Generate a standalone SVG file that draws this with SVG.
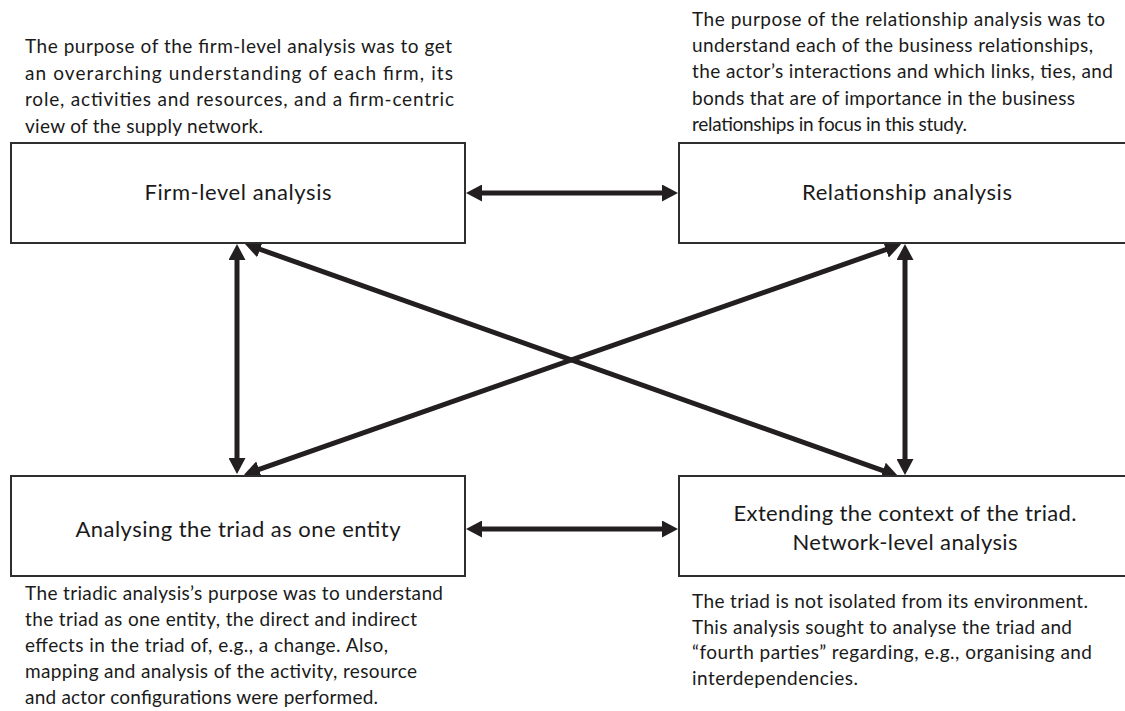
<svg xmlns="http://www.w3.org/2000/svg" width="1125" height="711" viewBox="0 0 1125 711">
  <style>
    .box { fill: #ffffff; stroke: #2e2e2e; stroke-width: 2; }
    .title { font-family: Lato, "Open Sans", "Liberation Sans", sans-serif; font-size: 22px; fill: #1a1a1a; text-anchor: middle; }
    .note { font-family: Lato, "Open Sans", "Liberation Sans", sans-serif; font-size: 19px; fill: #1a1a1a; }
    .link { fill: none; stroke: #231f20; stroke-width: 5; marker-start: url(#head); marker-end: url(#head); }
  </style>
  <defs>
    <marker id="head" viewBox="0 0 16 17" markerWidth="16" markerHeight="17" refX="6" refY="8.5" orient="auto-start-reverse" markerUnits="userSpaceOnUse">
      <path d="M0,0 L16,8.5 L0,17 z" fill="#231f20"/>
    </marker>
  </defs>
  <rect width="1125" height="711" fill="#ffffff"/>

  <!-- descriptions -->
  <g id="note-firm" class="note">
    <text x="25" y="53" textLength="427">The purpose of the firm-level analysis was to get</text>
    <text x="25" y="80" textLength="428">an overarching understanding of each firm, its</text>
    <text x="25" y="106" textLength="429">role, activities and resources, and a firm-centric</text>
    <text x="25" y="133" textLength="238">view of the supply network.</text>
  </g>
  <g id="note-relationship" class="note">
    <text x="692" y="26" textLength="413">The purpose of the relationship analysis was to</text>
    <text x="692" y="52" textLength="401">understand each of the business relationships,</text>
    <text x="692" y="78" textLength="421">the actor’s interactions and which links, ties, and</text>
    <text x="692" y="105" textLength="383">bonds that are of importance in the business</text>
    <text x="692" y="131" textLength="275">relationships in focus in this study.</text>
  </g>
  <g id="note-triad" class="note">
    <text x="25" y="600" textLength="418">The triadic analysis’s purpose was to understand</text>
    <text x="25" y="626" textLength="392">the triad as one entity, the direct and indirect</text>
    <text x="25" y="652" textLength="363">effects in the triad of, e.g., a change. Also,</text>
    <text x="25" y="678" textLength="392">mapping and analysis of the activity, resource</text>
    <text x="25" y="704" textLength="353">and actor configurations were performed.</text>
  </g>
  <g id="note-network" class="note">
    <text x="692" y="608" textLength="396">The triad is not isolated from its environment.</text>
    <text x="692" y="634" textLength="380">This analysis sought to analyse the triad and</text>
    <text x="692" y="659" textLength="400">“fourth parties” regarding, e.g., organising and</text>
    <text x="692" y="685" textLength="166">interdependencies.</text>
  </g>

  <!-- connectors -->
  <g id="connectors">
    <line class="link" x1="476" y1="193" x2="668" y2="193"/>
    <line class="link" x1="476" y1="529" x2="668" y2="529"/>
    <line class="link" x1="237" y1="254" x2="237" y2="464"/>
    <line class="link" x1="905" y1="254" x2="905" y2="465"/>
    <line class="link" x1="254.4" y1="247.3" x2="888.6" y2="472.7"/>
    <line class="link" x1="253.4" y1="471.4" x2="891.6" y2="247.6"/>
  </g>

  <!-- nodes -->
  <g id="firm-level">
    <rect class="box" x="11" y="143" width="454" height="100"/>
    <text class="title" x="238" y="200" textLength="187">Firm-level analysis</text>
  </g>
  <g id="relationship">
    <rect class="box" x="679" y="143" width="456" height="100"/>
    <text class="title" x="907" y="200" textLength="210">Relationship analysis</text>
  </g>
  <g id="triad">
    <rect class="box" x="11" y="476" width="454" height="100"/>
    <text class="title" x="238" y="537" textLength="325">Analysing the triad as one entity</text>
  </g>
  <g id="network">
    <rect class="box" x="679" y="476" width="456" height="100"/>
    <text class="title" x="905" y="521" textLength="343">Extending the context of the triad.</text>
    <text class="title" x="905" y="550" textLength="225">Network-level analysis</text>
  </g>
</svg>
